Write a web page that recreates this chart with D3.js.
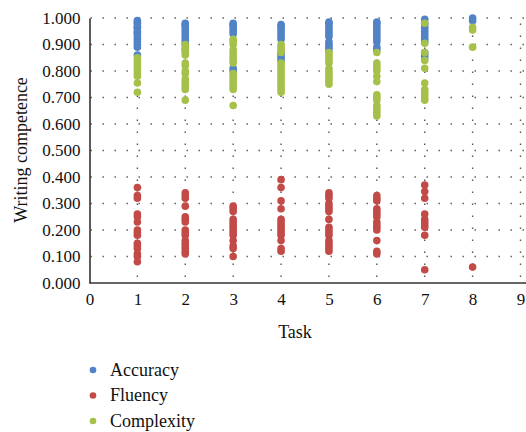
<!DOCTYPE html>
<html>
<head>
<meta charset="utf-8">
<script src="https://cdn.jsdelivr.net/npm/d3@7"></script>
<style>
  html, body { margin: 0; padding: 0; background: #fff; }
  svg { display: block; }
  text { font-family: "Liberation Serif", "DejaVu Serif", serif; fill: #111; }
</style>
</head>
<body>
<svg id="chart" width="526" height="432"></svg>
<script>
// ---- data ----
const tasks = [1, 2, 3, 4, 5, 6, 7, 8];
const xTicks = [0, 1, 2, 3, 4, 5, 6, 7, 8, 9];
const yTicks = [0, 0.1, 0.2, 0.3, 0.4, 0.5, 0.6, 0.7, 0.8, 0.9, 1.0];
const seriesNames = ["Accuracy", "Fluency", "Complexity"];

const accuracy = [
  [0.99, 0.985, 0.98, 0.97, 0.965, 0.96, 0.95, 0.945, 0.94, 0.93, 0.92, 0.91, 0.90, 0.89, 0.86],
  [0.98, 0.975, 0.97, 0.96, 0.95, 0.94, 0.93, 0.92, 0.91, 0.90, 0.88],
  [0.98, 0.975, 0.97, 0.96, 0.95, 0.94, 0.81, 0.80],
  [0.975, 0.97, 0.96, 0.95, 0.94, 0.93, 0.92, 0.87, 0.86, 0.85, 0.84],
  [0.985, 0.98, 0.97, 0.96, 0.95, 0.94, 0.93, 0.91, 0.90, 0.89, 0.88],
  [0.985, 0.98, 0.97, 0.96, 0.95, 0.94, 0.93, 0.92, 0.91, 0.89, 0.88],
  [0.995, 0.98, 0.97, 0.96, 0.95, 0.94, 0.93, 0.92, 0.91, 0.87, 0.86, 0.85],
  [1.0, 0.99]
];
const fluency = [
  [0.36, 0.33, 0.32, 0.26, 0.25, 0.23, 0.20, 0.19, 0.18, 0.15, 0.14, 0.13, 0.11, 0.10, 0.08],
  [0.34, 0.33, 0.32, 0.29, 0.25, 0.24, 0.23, 0.20, 0.19, 0.18, 0.16, 0.15, 0.14, 0.13, 0.12, 0.11],
  [0.29, 0.28, 0.27, 0.24, 0.23, 0.22, 0.21, 0.20, 0.19, 0.18, 0.16, 0.14, 0.13, 0.10],
  [0.39, 0.36, 0.31, 0.28, 0.24, 0.23, 0.22, 0.21, 0.20, 0.19, 0.18, 0.16, 0.13, 0.12],
  [0.34, 0.33, 0.32, 0.30, 0.29, 0.28, 0.27, 0.24, 0.21, 0.20, 0.19, 0.18, 0.16, 0.15, 0.14, 0.13, 0.12],
  [0.33, 0.32, 0.31, 0.28, 0.27, 0.26, 0.25, 0.23, 0.22, 0.21, 0.20, 0.16, 0.12, 0.11],
  [0.37, 0.345, 0.32, 0.26, 0.24, 0.23, 0.22, 0.21, 0.18, 0.05],
  [0.06]
];
const complexity = [
  [0.85, 0.84, 0.83, 0.82, 0.81, 0.80, 0.79, 0.78, 0.755, 0.72],
  [0.90, 0.89, 0.88, 0.87, 0.86, 0.83, 0.82, 0.80, 0.79, 0.77, 0.76, 0.75, 0.74, 0.73, 0.69],
  [0.92, 0.91, 0.90, 0.88, 0.87, 0.86, 0.85, 0.84, 0.83, 0.79, 0.78, 0.77, 0.76, 0.75, 0.74, 0.73, 0.67],
  [0.90, 0.89, 0.88, 0.87, 0.83, 0.82, 0.81, 0.80, 0.79, 0.78, 0.77, 0.76, 0.75, 0.74, 0.73, 0.72],
  [0.87, 0.86, 0.85, 0.84, 0.83, 0.81, 0.80, 0.79, 0.78, 0.77, 0.76, 0.75],
  [0.87, 0.83, 0.82, 0.81, 0.80, 0.78, 0.76, 0.71, 0.70, 0.69, 0.67, 0.66, 0.65, 0.64, 0.63],
  [0.98, 0.905, 0.87, 0.84, 0.81, 0.755, 0.73, 0.72, 0.71, 0.70, 0.69],
  [0.965, 0.955, 0.89]
];

// ---- layout ----
const colors = ["#5183c6", "#c24b47", "#a6c14b"];
const svg = d3.select("#chart");
const x = d3.scaleLinear().domain([0, 9]).range([89.5, 520.5]);
const y = d3.scaleLinear().domain([0, 1]).range([283, 18]);

// gridlines (dotted)
const grid = svg.append("g").attr("stroke", "#555").attr("stroke-width", 1.4)
  .attr("stroke-dasharray", "1.4,10.6");
grid.selectAll("line.h").data(yTicks.filter(d => d > 0)).join("line")
  .attr("x1", x(0) + 1).attr("x2", 526)
  .attr("y1", d => y(d)).attr("y2", d => y(d));
grid.selectAll("line.v").data(xTicks.filter(d => d > 0)).join("line")
  .attr("x1", d => x(d)).attr("x2", d => x(d))
  .attr("y1", y(0)).attr("y2", y(1) + 1)
  .attr("stroke-dashoffset", 6);

// axes
const yAxis = d3.axisLeft(y).tickValues(yTicks).tickFormat(d3.format(".3f")).tickSize(0).tickPadding(9);
const gy = svg.append("g").attr("transform", `translate(${x(0)},0)`).call(yAxis);
gy.select(".domain").attr("stroke", "#333").attr("stroke-width", 1.6);
gy.selectAll("text").attr("font-size", 17).attr("font-family", "Liberation Serif").attr("fill", "#111");

const xAxis = d3.axisBottom(x).tickValues(xTicks).tickFormat(d3.format("d")).tickSize(0).tickPadding(10);
const gx = svg.append("g").attr("transform", `translate(0,${y(0)})`).call(xAxis);
gx.select(".domain").attr("stroke", "#333").attr("stroke-width", 1.6).attr("d", `M${x(0)},0H526`);
gx.selectAll("text").attr("font-size", 17).attr("font-family", "Liberation Serif").attr("fill", "#111");

// points
const allSeries = [accuracy, fluency, complexity];
allSeries.forEach((ser, si) => {
  const pts = [];
  ser.forEach((vals, ti) => vals.forEach(v => pts.push({ t: tasks[ti], v })));
  svg.append("g").selectAll("circle").data(pts).join("circle")
    .attr("cx", d => x(d.t))
    .attr("cy", d => y(d.v))
    .attr("r", 3.8)
    .attr("fill", colors[si]);
});

// axis titles
svg.append("text").attr("x", 295).attr("y", 338).attr("text-anchor", "middle")
  .attr("font-size", 18).text("Task");
svg.append("text").attr("transform", "translate(27,150) rotate(-90)")
  .attr("text-anchor", "middle").attr("font-size", 18).text("Writing competence");

// legend
const leg = svg.append("g");
seriesNames.forEach((n, i) => {
  const cy = 370 + i * 25.5;
  leg.append("circle").attr("cx", 93).attr("cy", cy).attr("r", 3.3).attr("fill", colors[i]);
  leg.append("text").attr("x", 110).attr("y", cy + 5.5).attr("font-size", 18).text(n);
});
</script>
</body>
</html>
